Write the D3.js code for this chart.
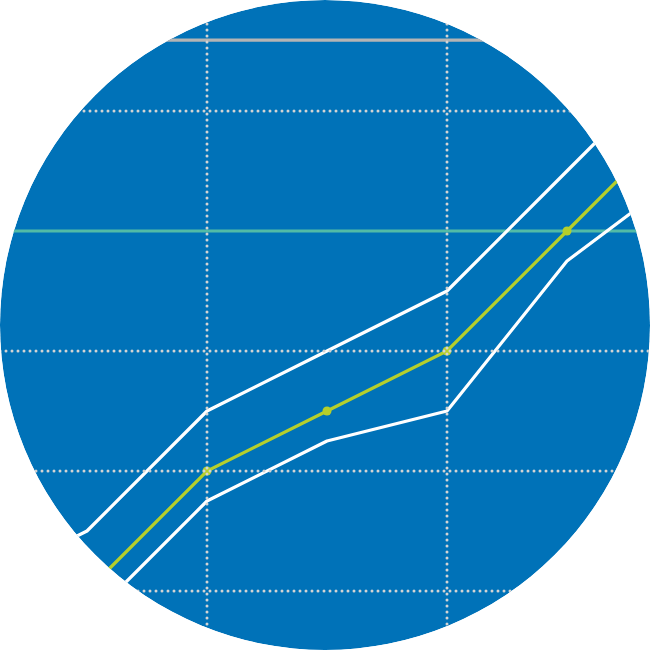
<!DOCTYPE html>
<html>
<head>
<meta charset="utf-8">
<script src="https://cdn.jsdelivr.net/npm/d3@7"></script>
<style>
  body { margin: 0; background: #fff; }
</style>
</head>
<body>
<svg id="chart" width="650" height="650"></svg>
<script>
// chart values
const steps = [0, 1, 2, 3, 4, 5, 6];
const midValues = [null, 0, 1, 1.5, 2, 3, 4];
const upperValues = [0, 0.5, 1.5, 2, 2.5, 3.5, 4.5];
const lowerValues = [null, -0.25, 0.75, 1.25, 1.5, 2.75, 3.5];
const xGridTicks = [0, 2, 4, 6];
const yGridTicks = [0, 1, 2, 4];
const targetValue = 3;
const ceilingValue = 4.59;

const svg = d3.select("#chart")
const width = +svg.attr("width")
const height = +svg.attr("height")
const r = width / 2

x = d3.scaleLinear()
  .domain([0, 6])
  .range([-33, 687])

y = d3.scaleLinear()
  .domain([0, 4])
  .range([591, 111])

svg.append("defs").append("clipPath")
  .attr("id", "disc")
  .append("circle")
  .attr("cx", r).attr("cy", r).attr("r", r)

const g = svg.append("g").attr("clip-path", "url(#disc)")

g.append("circle")
  .attr("cx", r).attr("cy", r).attr("r", r)
  .attr("fill", "#0072b8")

// reference lines
g.append("line")
  .attr("x1", 0).attr("x2", width)
  .attr("y1", y(ceilingValue)).attr("y2", y(ceilingValue))
  .attr("stroke", "#b4b4b4")
  .attr("stroke-width", 3.2)

g.append("line")
  .attr("x1", 0).attr("x2", width)
  .attr("y1", y(targetValue)).attr("y2", y(targetValue))
  .attr("stroke", "#52bba6")
  .attr("stroke-width", 3.2)

function drawBand(values, color) {
  const line = d3.line()
    .defined(d => d[1] !== null)
    .x(d => x(d[0]))
    .y(d => y(d[1]))
  g.append("path")
    .datum(steps.map((s, i) => [s, values[i]]))
    .attr("fill", "none")
    .attr("stroke", color)
    .attr("stroke-width", 3.2)
    .attr("stroke-linejoin", "round")
    .attr("d", line)
}

drawBand(upperValues, "#fff")
drawBand(lowerValues, "#fff")

const midLine = d3.line()
  .x(d => x(d[0]))
  .y(d => y(d[1]))
g.append("path")
  .datum(steps.map((s, i) => [s, midValues[i]]).filter(d => d[1] !== null))
  .attr("fill", "none")
  .attr("stroke", "#b5cf2b")
  .attr("stroke-width", 3.2)
  .attr("d", midLine)

g.selectAll(".pt")
  .data(steps.map((s, i) => [s, midValues[i]]).filter(d => d[1] !== null && d[0] > 1))
  .enter().append("circle")
  .attr("cx", d => x(d[0]))
  .attr("cy", d => y(d[1]))
  .attr("r", 4.5)
  .attr("fill", "#b5cf2b")

// dotted grid sits on top of the lines
g.selectAll(".vgrid")
  .data(xGridTicks)
  .enter().append("line")
  .attr("x1", d => x(d)).attr("x2", d => x(d))
  .attr("y1", 0).attr("y2", height)
  .attr("stroke", "#d4d4d4")
  .attr("stroke-width", 3)
  .attr("stroke-linecap", "round")
  .attr("stroke-dasharray", "0,6")

g.selectAll(".hgrid")
  .data(yGridTicks)
  .enter().append("line")
  .attr("x1", 0).attr("x2", width)
  .attr("y1", d => y(d)).attr("y2", d => y(d))
  .attr("stroke", "#d4d4d4")
  .attr("stroke-width", 3)
  .attr("stroke-linecap", "round")
  .attr("stroke-dasharray", "0,6")
</script>
</body>
</html>
